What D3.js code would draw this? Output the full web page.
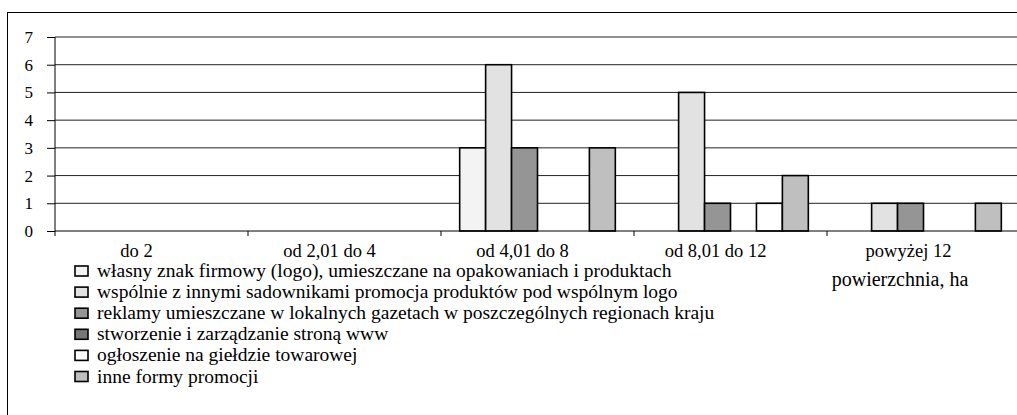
<!DOCTYPE html>
<html>
<head>
<meta charset="utf-8">
<script src="https://cdn.jsdelivr.net/npm/d3@7"></script>
<style>
  body { margin: 0; background: #fff; }
  svg { display: block; font-family: "Liberation Serif", "Times New Roman", serif; }
</style>
</head>
<body>
<svg width="1017" height="415"></svg>
<script>
// categories (area, ha)
var categories = ["do 2", "od 2,01 do 4", "od 4,01 do 8", "od 8,01 do 12", "powyżej 12"];

var seriesNames = [
    "własny znak firmowy (logo), umieszczane na opakowaniach i produktach",
    "wspólnie z innymi sadownikami promocja produktów pod wspólnym logo",
    "reklamy umieszczane w lokalnych gazetach w poszczególnych regionach kraju",
    "stworzenie i zarządzanie stroną www",
    "ogłoszenie na giełdzie towarowej",
    "inne formy promocji"
];

// values per series, one per category
var logo      = [0, 0, 3, 0, 0];
var wspolnie  = [0, 0, 6, 5, 1];
var reklamy   = [0, 0, 3, 1, 1];
var strona    = [0, 0, 0, 0, 0];
var gielda    = [0, 0, 0, 1, 0];
var inne      = [0, 0, 3, 2, 1];

var yTicks = [0, 1, 2, 3, 4, 5, 6, 7];

var colors = ["#f3f3f3", "#e2e2e2", "#959595", "#777777", "#ffffff", "#bfbfbf"];

var seriesValues = [logo, wspolnie, reklamy, strona, gielda, inne];

var svg = d3.select("svg");

// outer frame (cropped on the right and bottom)
svg.append("rect")
    .attr("x", 7.5).attr("y", 12.5)
    .attr("width", 1200).attr("height", 600)
    .attr("fill", "none")
    .attr("stroke", "#000")
    .attr("stroke-width", 1);

var plotLeft = 55, plotRight = 1020, plotTop = 37, plotBottom = 231;

var x = d3.scaleBand()
    .domain(categories)
    .range([plotLeft, plotRight])
    .paddingInner(0)
    .paddingOuter(0);

var xs = d3.scaleBand()
    .domain(d3.range(seriesNames.length))
    .range([0, x.bandwidth()])
    .paddingInner(0)
    .paddingOuter(0.72);

var y = d3.scaleLinear()
    .domain([0, 7])
    .range([plotBottom, plotTop]);

// gridlines
svg.append("g")
    .selectAll("line")
    .data(yTicks.filter(function (d) { return d > 0; }))
    .enter()
    .append("line")
    .attr("x1", plotLeft).attr("x2", plotRight)
    .attr("y1", function (d) { return y(d); })
    .attr("y2", function (d) { return y(d); })
    .attr("stroke", "#222")
    .attr("stroke-width", 1);

// bars
var groups = svg.append("g")
    .selectAll("g")
    .data(seriesValues)
    .enter()
    .append("g")
    .attr("fill", function (d, i) { return colors[i]; });

groups.each(function (vals, si) {
    d3.select(this)
        .selectAll("rect")
        .data(vals.map(function (v, ci) { return { v: v, c: categories[ci] }; }).filter(function (d) { return d.v > 0; }))
        .enter()
        .append("rect")
        .attr("x", function (d) { return x(d.c) + xs(si); })
        .attr("y", function (d) { return y(d.v); })
        .attr("width", xs.bandwidth())
        .attr("height", function (d) { return y(0) - y(d.v); })
        .attr("stroke", "#000")
        .attr("stroke-width", 1.6);
});

// y axis
var y_axis = d3.axisLeft(y)
    .tickValues(yTicks)
    .tickSize(8)
    .tickPadding(14)
    .tickFormat(d3.format("d"));

svg.append("g")
    .attr("transform", "translate(" + plotLeft + ",0)")
    .call(y_axis)
    .call(function (g) {
        g.select(".domain").attr("d", "M0," + plotTop + "V" + (plotBottom + 5));
        g.selectAll("line").attr("stroke", "#000");
        g.selectAll("text")
            .attr("font-size", 17)
            .attr("font-family", "Liberation Serif, serif")
            .attr("fill", "#000");
    });

// x axis
var x_axis = d3.axisBottom(x)
    .tickSize(0)
    .tickPadding(13);

svg.append("g")
    .attr("transform", "translate(0," + plotBottom + ")")
    .call(x_axis)
    .call(function (g) {
        g.select(".domain").attr("d", "M" + plotLeft + ",0H" + plotRight).attr("stroke", "#000");
        g.selectAll("text")
            .attr("font-size", 18.5)
            .attr("font-family", "Liberation Serif, serif")
            .attr("fill", "#000")
            .attr("dx", -15);
    });

// category boundary ticks
svg.append("g")
    .selectAll("line")
    .data(categories.slice(1))
    .enter()
    .append("line")
    .attr("x1", function (d) { return x(d); })
    .attr("x2", function (d) { return x(d); })
    .attr("y1", plotBottom).attr("y2", plotBottom + 5)
    .attr("stroke", "#000");

// legend
var legend = svg.append("g")
    .attr("transform", "translate(75,263)");

var row = legend.selectAll("g")
    .data(seriesNames)
    .enter()
    .append("g")
    .attr("transform", function (d, i) { return "translate(0," + (i * 21.1) + ")"; });

row.append("rect")
    .attr("x", 0).attr("y", 3)
    .attr("width", 13).attr("height", 10)
    .attr("fill", function (d, i) { return colors[i]; })
    .attr("stroke", "#000")
    .attr("stroke-width", 1.6);

row.append("text")
    .attr("x", 22).attr("y", 14)
    .attr("font-size", 19.5)
    .text(function (d) { return d; });

svg.append("text")
    .attr("x", 900).attr("y", 286)
    .attr("text-anchor", "middle")
    .attr("font-size", 20)
    .text("powierzchnia, ha");
</script>
</body>
</html>
